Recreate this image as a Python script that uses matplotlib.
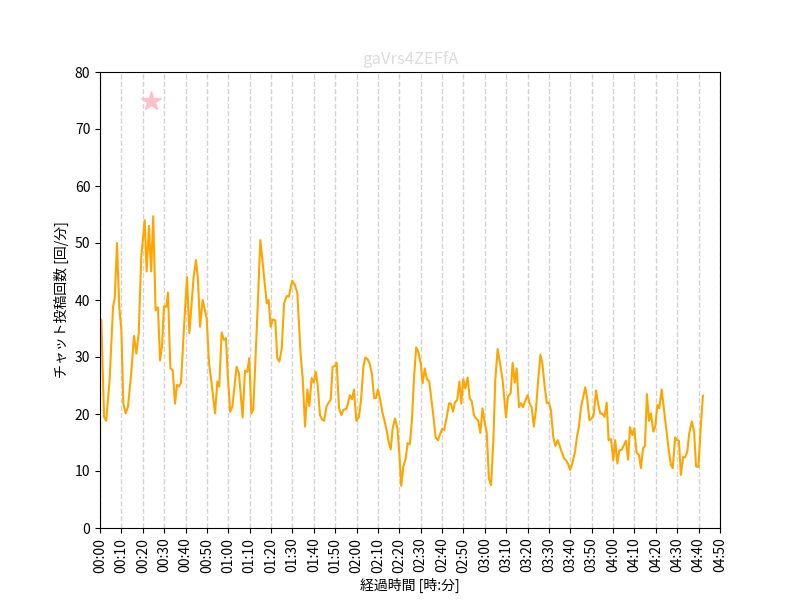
import matplotlib
matplotlib.use('Agg')
from matplotlib import pyplot as plt

plt.rcParams['font.family'] = ['Noto Sans CJK JP', 'DejaVu Sans']

### datos: minutos transcurridos y comentarios por minuto
minutes = [
    0.6, 1.9, 2.9, 4.5, 6.1, 6.9, 7.95, 9.0, 10.0, 10.9, 12.0, 13.1, 14.6, 15.9,
    17.0, 18.1, 19.3, 20.9, 21.8, 22.9, 23.9, 24.9, 26.0, 27.1, 28.1, 29.0, 29.9,
    31.0, 31.8, 32.9, 34.0, 35.1, 36.0, 36.9, 37.9, 39.3, 40.7, 41.8, 43.0, 43.8,
    44.9, 45.8, 46.8, 48.0, 49.9, 51.0, 52.2, 53.8, 54.9, 55.8, 56.9, 58.0, 58.9,
    59.9, 60.9, 61.9, 63.9, 65.0, 66.7, 67.8, 68.9, 69.8, 70.8, 71.7, 73.3, 75.0,
    76.4, 78.0, 78.9, 79.8, 80.8, 82.0, 82.9, 83.9, 85.0, 86.1, 87.3, 88.3, 89.9,
    91.2, 92.3, 93.9, 94.8, 95.9, 97.0, 97.9, 99.0, 100.0, 100.9, 101.8, 102.9,
    103.8, 104.8, 106.0, 107.0, 107.9, 108.8, 109.9, 110.7, 111.8, 112.9, 113.8,
    115.4, 116.9, 117.9, 118.8, 119.9, 121.1, 122.1, 123.2, 124.1, 125.2, 126.1,
    127.2, 128.2, 129.1, 130.0, 131.1, 132.0, 133.0, 134.1, 135.0, 136.0, 136.9,
    138.0, 139.1, 140.0, 140.9, 141.9, 143.0, 143.9, 144.9, 145.9, 146.9, 147.9,
    148.9, 150.0, 150.9, 151.9, 152.9, 154.0, 155.1, 156.1, 157.0, 158.1, 159.2,
    160.1, 161.0, 162.2, 163.3, 164.2, 165.1, 166.0, 167.1, 168.1, 169.0, 169.9,
    170.9, 172.0, 172.9, 173.9, 174.9, 175.9, 176.9, 177.9, 178.9, 180.0, 180.9,
    181.9, 182.9, 184.0, 184.9, 186.0, 187.1, 188.3, 189.9, 190.8, 192.1, 193.0,
    194.0, 194.9, 196.0, 196.9, 197.9, 198.9, 200.0, 200.9, 201.9, 202.9, 203.9,
    204.9, 206.0, 206.9, 208.0, 209.0, 210.0, 210.9, 212.0, 213.0, 214.1, 215.1,
    216.1, 217.1, 218.0, 219.0, 219.9, 221.0, 222.2, 223.1, 224.0, 225.0, 225.9,
    227.0, 227.9, 228.9, 230.0, 230.9, 232.0, 233.1, 234.0, 235.1, 236.0, 237.0,
    237.9, 239.0, 240.1, 241.0, 242.0, 242.9, 244.0, 245.1, 246.0, 247.0, 247.9,
    249.0, 249.9, 251.0, 252.1, 253.0, 254.0, 254.9, 255.8, 256.8, 257.7, 258.8,
    259.7, 260.7, 261.6, 262.7, 263.8, 264.9, 266.0, 267.0, 267.9, 269.0, 269.9,
    270.8, 271.7, 272.8, 273.7, 274.7, 275.6, 276.8, 277.9, 278.8, 279.9, 281.0,
    282.0,
]
counts = [
    36.5, 19.5, 18.8, 26.0, 38.8, 40.3, 50.0, 38.8, 34.7, 21.9, 20.1, 21.3, 27.1, 33.7,
    30.6, 34.2, 47.6, 54.0, 45.0, 53.0, 45.0, 54.7, 38.2, 38.7, 29.4, 31.8, 38.9,
    38.8, 41.3, 28.0, 27.7, 21.8, 25.1, 24.8, 25.5, 35.3, 44.0, 34.2, 40.0, 44.1,
    47.0, 43.8, 35.3, 40.0, 36.8, 28.9, 25.4, 20.1, 25.7, 24.8, 34.3, 33.0, 33.3,
    26.0, 20.4, 21.3, 28.3, 27.1, 19.4, 27.6, 27.4, 29.8, 20.1, 20.8, 34.7, 50.5,
    45.3, 39.4, 40.0, 35.3, 36.6, 36.4, 29.8, 29.2, 31.5, 39.4, 40.7, 40.6, 43.4,
    42.6, 41.2, 30.1, 26.3, 17.8, 24.3, 21.4, 26.3, 25.5, 27.4, 25.1, 19.8,
    19.1, 18.8, 21.4, 22.0, 22.5, 28.3, 28.4, 29.0, 21.0, 19.8, 20.7,
    21.0, 23.3, 22.6, 24.3, 18.8, 19.5, 22.5, 28.3, 29.9, 29.6, 28.9,
    27.0, 22.8, 22.8, 24.3, 22.5, 20.4, 18.9, 17.1, 15.1, 13.8, 17.5,
    19.2, 17.5, 13.1, 7.4, 10.8, 12.2, 14.9, 14.7, 18.9, 26.5, 31.7,
    30.9, 28.9, 25.4, 28.0, 26.1, 25.7, 22.2, 19.1, 15.9, 15.4, 16.6,
    17.4, 17.2, 19.5, 21.9, 21.8, 20.4, 22.0, 22.5, 25.7, 21.8, 26.1,
    24.5, 26.4, 22.8, 22.2, 19.8, 19.2, 18.9, 16.7, 21.0, 18.4, 16.7,
    8.7, 7.5, 15.4, 26.0, 31.4, 28.9, 26.0, 19.4, 23.0, 23.7, 29.0,
    25.5, 28.0, 21.2, 21.9, 21.2, 22.3, 23.3, 21.9, 21.2, 17.8, 20.7,
    25.7, 30.4, 28.9, 24.8, 21.9, 22.0, 20.7, 16.0, 14.4, 15.4, 14.3,
    13.2, 12.2, 11.9, 11.2, 10.2, 11.4, 13.4, 16.0, 17.8, 21.2, 22.8,
    24.7, 22.6, 18.9, 19.2, 19.8, 24.1, 21.6, 20.1, 20.0, 19.5, 22.0,
    15.4, 15.6, 11.9, 15.4, 11.3, 13.6, 13.7, 14.6, 15.3, 12.0, 17.7,
    16.3, 17.5, 13.2, 12.8, 10.5, 14.0, 14.4, 23.5, 18.8, 20.1, 16.9,
    17.8, 21.6, 21.0, 24.3, 20.8, 17.2, 13.7, 11.1, 10.5, 15.9, 15.4,
    15.3, 9.3, 12.5, 12.4, 13.4, 16.6, 18.7, 16.9, 10.8, 10.7, 17.8,
    23.2,
]

### marca de estrella (momento destacado)
star_minute = 24
star_value = 75

tick_minutes = list(range(0, 300, 10))
tick_labels = [f'{m // 60:02d}:{m % 60:02d}' for m in tick_minutes]

fig = plt.figure(figsize=(8, 6), dpi=100)
fig.subplots_adjust(left=0.125, right=0.9, top=0.88, bottom=0.12)
ax = fig.add_subplot(1, 1, 1)

ax.plot(minutes, counts, color='orange', linewidth=1.5)
ax.plot([star_minute], [star_value], marker='*', markersize=15, color='pink', linestyle='none')

for m in tick_minutes:
    ax.axvline(m, color='lightgray', linestyle='--', linewidth=1, zorder=0)

ax.set_xlim(0, 290)
ax.set_ylim(0, 80)
ax.set_xticks(tick_minutes)
ax.set_xticklabels(tick_labels, rotation=90)
ax.set_xlabel('経過時間 [時:分]')
ax.set_ylabel('チャット投稿回数 [回/分]')
ax.set_title('gaVrs4ZEFfA', color='#dddddd')

fig.savefig('out.png', dpi=100)
